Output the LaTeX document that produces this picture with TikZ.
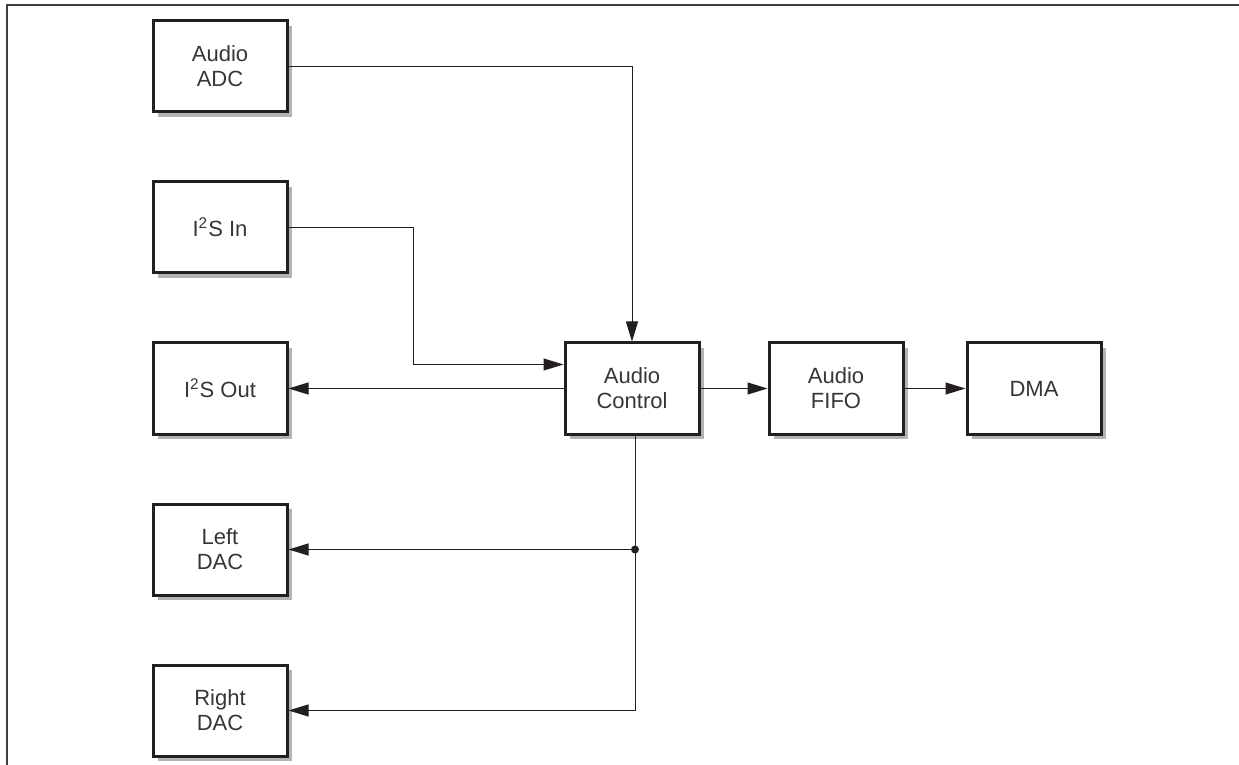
\documentclass[tikz,border=0pt]{standalone}
\usepackage{fontspec}
\setmainfont{Liberation Sans}
\usetikzlibrary{arrows.meta, positioning, shadows}
\definecolor{boxline}{HTML}{231F20}
\definecolor{shadowgray}{HTML}{B1B3B6}

\begin{document}
\begin{tikzpicture}[
    x=0.5pt, y=-0.5pt,
    block/.style={rectangle, draw=boxline, line width=1.5pt, fill=white,
                  minimum width=67pt, minimum height=45.5pt, align=center,
                  font=\fontsize{11}{12.5}\selectfont, text=boxline!90,
                  drop shadow={shadow xshift=2.5pt, shadow yshift=-2.5pt,
                               fill=shadowgray, opacity=1}},
    arrow/.style={-{Triangle[length=10pt, width=6pt]}, line width=0.5pt, draw=boxline}
]
    \useasboundingbox (0,0) rectangle (1239,765);
    \draw[line width=1pt, draw=black!75] (7,765) -- (7,5) -- (1239,5);

    % left column
    \node[block] (adc) at (220,66.5) {Audio\\ADC};
    \node[block, below=33.5pt of adc] (i2sin) {I\textsuperscript{2}S In};
    \node[block, below=33.5pt of i2sin] (i2sout) {I\textsuperscript{2}S Out};
    \node[block, below=33.5pt of i2sout] (ldac) {Left\\DAC};
    \node[block, below=33.5pt of ldac] (rdac) {Right\\DAC};

    % main path
    \node[block, right=137.5pt of i2sout] (ctrl) {Audio\\Control};
    \node[block, right=33.5pt of ctrl] (fifo) {Audio\\FIFO};
    \node[block, right=30.5pt of fifo] (dma) {DMA};

    \coordinate (split) at ([xshift=1.5pt]ctrl.south |- ldac.east);

    \draw[arrow] (adc.east) -| (ctrl.north);
    \draw[arrow] (i2sin.east) -- ++(62.5pt,0pt) |- ([yshift=12pt]ctrl.west);
    \draw[arrow] (ctrl.west) -- (i2sout.east);
    \draw[arrow] (ctrl) -- (fifo);
    \draw[arrow] (fifo) -- (dma);
    \draw[arrow] ([xshift=1.5pt]ctrl.south) |- (rdac.east);
    \draw[arrow] (split) -- (ldac.east);
    \fill[boxline] (split) circle (2pt);
\end{tikzpicture}
\end{document}
